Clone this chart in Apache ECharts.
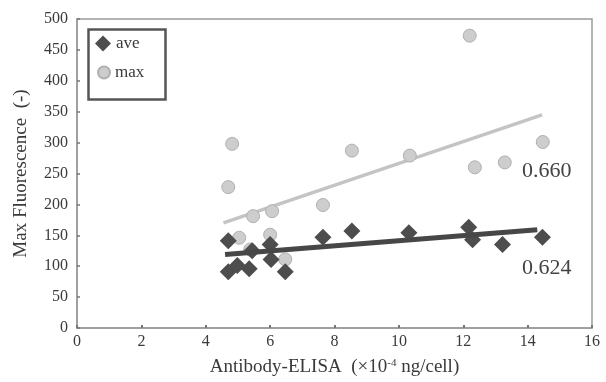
<!DOCTYPE html>
<html>
<head>
<meta charset="utf-8">
<script src="https://cdn.jsdelivr.net/npm/echarts@6/dist/echarts.min.js"></script>
<style>
html,body{margin:0;padding:0;background:#fff;}
#chartDiv{width:606px;height:382px;}
</style>
</head>
<body>
<div id="chartDiv"></div>
<script>
var aveData = [
    [4.70, 141], [4.70, 91], [4.98, 101], [5.35, 96], [5.44, 125],
    [6.00, 135], [6.03, 111], [6.47, 91], [7.64, 147], [8.54, 157],
    [10.31, 154], [12.17, 163], [12.29, 143], [13.22, 135], [14.46, 147]
];
var maxData = [
    [4.82, 298], [4.70, 228], [5.04, 146], [5.47, 181], [6.06, 189],
    [6.00, 151], [6.47, 111], [7.64, 199], [8.54, 287], [10.34, 279],
    [12.20, 473], [12.36, 260], [13.29, 268], [14.47, 301], [5.38, 127]
];
var aveFit = [[4.6, 119], [14.3, 159]];
var maxFit = [[4.55, 170], [14.45, 345]];
var rLabels = ['0.660', '0.624'];

var myChart = echarts.init(document.getElementById('chartDiv'));
var serif = '"Liberation Serif", "DejaVu Serif", serif';
var legendText = {fontFamily: serif, fontSize: 17, color: '#3a3a3a'};

var option = {
    animation: false,
    backgroundColor: '#fff',
    textStyle: {fontFamily: serif},
    grid: {
        left: 77, right: 14, top: 19, bottom: 51,
        show: true, borderColor: '#9a9a9a', borderWidth: 1.5
    },
    // two legends so each marker keeps its own size, box drawn below
    legend: [
        {
            left: 95, top: 35, padding: 0, itemGap: 0,
            itemWidth: 16, itemHeight: 16, textStyle: legendText,
            data: [{name: 'ave', icon: 'diamond'}]
        },
        {
            left: 97, top: 64, padding: 0, itemGap: 0,
            itemWidth: 12, itemHeight: 12, textStyle: legendText,
            data: [{name: 'max', icon: 'circle'}]
        }
    ],
    xAxis: {
        type: 'value', min: 0, max: 16, interval: 2,
        name: 'Antibody-ELISA  (×10{sup|-4} ng/cell)',
        nameLocation: 'middle', nameGap: 30,
        nameTextStyle: {
            fontFamily: serif, fontSize: 19, color: '#3a3a3a',
            rich: {sup: {fontFamily: serif, fontSize: 11, color: '#3a3a3a', verticalAlign: 'top', padding: [0, 0, 8, 0]}}
        },
        axisLine: {lineStyle: {color: '#9a9a9a', width: 1.5}},
        axisTick: {inside: true, length: 3, lineStyle: {color: '#777', width: 2}},
        axisLabel: {fontFamily: serif, fontSize: 16, color: '#3a3a3a', margin: 6},
        splitLine: {show: false}
    },
    yAxis: {
        type: 'value', min: 0, max: 500, interval: 50,
        name: 'Max Fluorescence  (-)',
        nameLocation: 'middle', nameGap: 46, nameRotate: 90,
        nameTextStyle: {fontFamily: serif, fontSize: 19, color: '#3a3a3a'},
        axisLine: {lineStyle: {color: '#9a9a9a', width: 1.5}},
        axisTick: {inside: true, length: 3, lineStyle: {color: '#777', width: 1.5}},
        axisLabel: {fontFamily: serif, fontSize: 16, color: '#3a3a3a', margin: 9},
        splitLine: {show: false}
    },
    series: [
        {
            name: 'maxFit', type: 'line', data: maxFit, symbol: 'none',
            lineStyle: {color: '#c4c4c4', width: 3.5}, z: 1
        },
        {
            name: 'max', type: 'scatter', data: maxData,
            symbol: 'circle', symbolSize: 13,
            itemStyle: {color: '#cdcdcd', borderColor: '#b0b0b0', borderWidth: 1, opacity: 1}, z: 2
        },
        {
            name: 'ave', type: 'scatter', data: aveData,
            symbol: 'diamond', symbolSize: [17, 17],
            itemStyle: {color: '#4d4d4d', opacity: 1}, z: 3
        },
        {
            name: 'aveFit', type: 'line', data: aveFit, symbol: 'none',
            lineStyle: {color: '#474747', width: 5}, z: 4
        }
    ],
    graphic: [
        {type: 'rect', left: 86, top: 27, shape: {width: 77, height: 70},
         style: {fill: 'none', stroke: '#555', lineWidth: 2.5}},
        {type: 'text', left: 522, top: 160, style: {text: rLabels[0], font: '22px ' + serif, fill: '#444'}},
        {type: 'text', left: 522, top: 257, style: {text: rLabels[1], font: '22px ' + serif, fill: '#444'}}
    ]
};

myChart.setOption(option);
</script>
</body>
</html>
